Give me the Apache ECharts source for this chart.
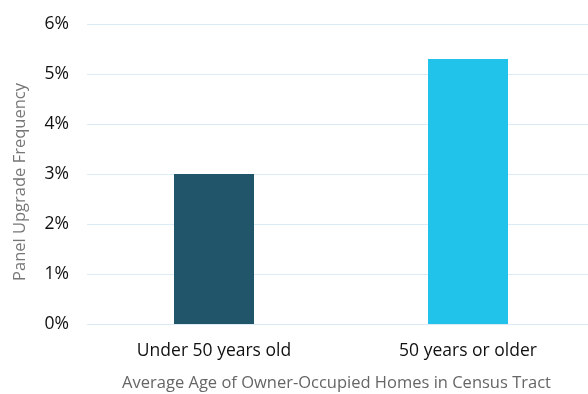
<!DOCTYPE html>
<html><head><meta charset="utf-8">
<script src="https://cdn.jsdelivr.net/npm/echarts@6/dist/echarts.min.js"></script>
<style>html,body{margin:0;padding:0;background:#fff}#c{width:588px;height:394px}</style>
</head><body><div id="c"></div>
<script>
const categories = ["Under 50 years old", "50 years or older"];
const values = [3.0, 5.3];
const barColors = ["#215569", "#21c3ea"];
const yTicks = [0, 1, 2, 3, 4, 5, 6];
const xTitle = "Average Age of Owner-Occupied Homes in Census Tract";
const yTitle = "Panel Upgrade Frequency";

const chart = echarts.init(document.getElementById('c'));
const font = '"Open Sans", sans-serif';
chart.setOption({
  animation: false,
  grid: { left: 87, right: -7, top: 24, bottom: 70, outerBoundsMode: 'none', containLabel: false },
  xAxis: {
    type: 'category', data: categories,
    axisLine: { show: false }, axisTick: { show: false },
    axisLabel: { color: '#111', fontSize: 17.5, fontFamily: font, margin: 18 },
    name: xTitle, nameLocation: 'middle', nameGap: 51,
    nameTextStyle: { color: '#666', fontSize: 16.5, fontFamily: font, padding: [0, 9, 0, 0] }
  },
  yAxis: {
    type: 'value', min: yTicks[0], max: yTicks[yTicks.length - 1], interval: 1,
    axisLine: { show: false }, axisTick: { show: false },
    axisLabel: { color: '#111', fontSize: 17.5, fontFamily: font, margin: 18, formatter: v => v + '%' },
    splitLine: { lineStyle: { color: '#dcecf6', width: 1 } },
    name: yTitle, nameLocation: 'middle', nameGap: 58,
    nameTextStyle: { color: '#777', fontSize: 16.5, fontFamily: font, padding: [0, 0, 0, -16] }
  },
  series: [{
    type: 'bar', barWidth: '31.5%',
    data: values.map((v, i) => ({ value: v, itemStyle: { color: barColors[i] } }))
  }]
});
</script></body></html>
